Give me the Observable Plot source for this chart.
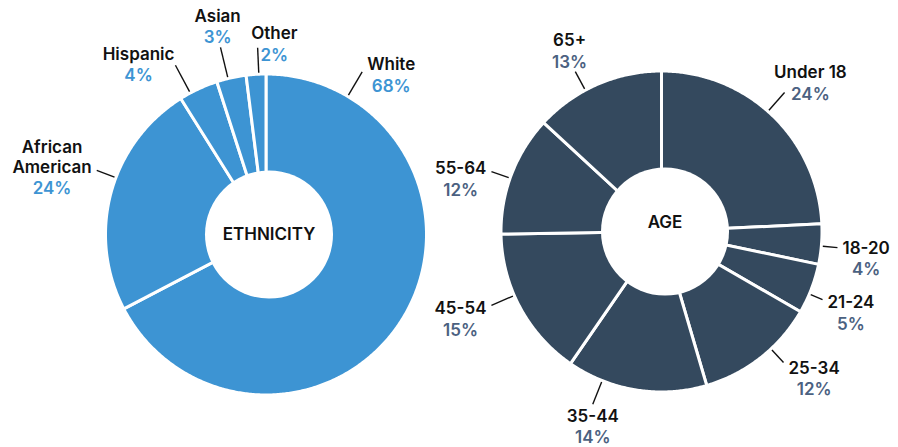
<!DOCTYPE html>
<html>
<head>
<meta charset="utf-8">
<script src="https://cdn.jsdelivr.net/npm/d3@7"></script>
<script src="https://cdn.jsdelivr.net/npm/@observablehq/plot@0.6"></script>
<style>
  html, body { margin: 0; padding: 0; background: #fff; }
  #chart { width: 898px; height: 447px; }
</style>
</head>
<body>
<div id="chart"></div>
<script>
// ---- data ----
const ethnicities = ["White", "African American", "Hispanic", "Asian", "Other"];
const ethnicityPct = [68, 24, 4, 3, 2];
const ageGroups = ["Under 18", "18-20", "21-24", "25-34", "35-44", "45-54", "55-64", "65+"];
const agePct = [24, 4, 5, 12, 14, 15, 12, 13];
const centerTitles = ["ETHNICITY", "AGE"];

// ---- layout / style ----
const W = 898, H = 447;
const FONT = "Inter, 'Open Sans', sans-serif";
const FS = 17;
const WEIGHT = 600;
const donuts = [
  {title: centerTitles[0], names: ethnicities, values: ethnicityPct, cx: 265.5, cy: 234, r: 159, hole: 64, holeDx: 3, titleDy: 0, fill: "#3d94d3", pctColor: "#3d94d3"},
  {title: centerTitles[1], names: ageGroups, values: agePct, cx: 661, cy: 231, r: 159, hole: 64, holeDx: 3.5, titleDy: -8.5, fill: "#34495e", pctColor: "#4b6181"}
];
// label placement (angle shift in degrees from slice middle, leader length beyond radius)
const labelLayout = {
  "White": {shift: -90.6, len: 30, place: "right"},
  "African American": {shift: 5.6, len: 22, place: "left", lines: ["African", "American"]},
  "Hispanic": {shift: -3.2, len: 33, place: "left", nudge: [4, -4]},
  "Asian": {shift: -1.2, len: 33.5, place: "top"},
  "Other": {shift: 1.0, len: 28, place: "right", nudge: [-11.5, -6]},
  "Under 18": {shift: -2.1, len: 26.6, place: "right", nudge: [-15.5, -14]},
  "18-20": {shift: 0.7, len: 17.7, place: "right"},
  "21-24": {shift: 2.0, len: 15.8, place: "right"},
  "25-34": {shift: -4.8, len: 20, place: "right"},
  "35-44": {shift: 12.6, len: 27, place: "bottom"},
  "45-54": {shift: 4.7, len: 26.4, place: "left"},
  "55-64": {shift: -1.5, len: 21.3, place: "left"},
  "65+": {shift: -4.7, len: 22.6, place: "top"}
};

const ctx = document.createElement("canvas").getContext("2d");
ctx.font = `${WEIGHT} ${FS}px ${FONT}`;
const tw = s => ctx.measureText(s).width;

const slicePts = [[], []];
const holes = [], titles = [], leaders = [], nameRows = [], pctRows = [];

donuts.forEach((dn, k) => {
  const items = dn.names.map((n, i) => ({name: n, value: dn.values[i]}));
  const arcs = d3.pie().sort(null).value(d => d.value).startAngle(0).endAngle(2 * Math.PI)(items);
  const pt = (a, rad) => [dn.cx + rad * Math.sin(a), dn.cy - rad * Math.cos(a)];
  arcs.forEach(a => {
    const key = dn.title + ":" + a.data.name;
    const ro = dn.r + 1.5;
    const pts = [[dn.cx, dn.cy]];
    const n = Math.max(2, Math.ceil((a.endAngle - a.startAngle) / (Math.PI / 360)));
    for (let j = 0; j <= n; j++) {
      const ang = a.startAngle + (a.endAngle - a.startAngle) * j / n;
      pts.push(pt(ang, ro));
    }
    pts.forEach(([x, y]) => slicePts[k].push({key, x, y}));

    // labels
    const L = labelLayout[a.data.name] || {shift: 0, len: 24, place: "right"};
    const th = (a.startAngle + a.endAngle) / 2 + L.shift * Math.PI / 180;
    const s = pt(th, dn.r + 3), e = pt(th, dn.r + L.len);
    leaders.push({x1: s[0], y1: s[1], x2: e[0], y2: e[1]});
    const nameLines = L.lines || [a.data.name];
    const pctText = a.data.value + "%";
    const bw = Math.max(...nameLines.map(tw), tw(pctText));
    const sn = Math.sin(th), cs = Math.cos(th);
    let cx, lastY;
    if (L.place === "right") { cx = e[0] + 5 + bw / 2; lastY = e[1] - 8 * cs; }
    else if (L.place === "left") { cx = e[0] - 5 - bw / 2; lastY = e[1] - 8 * cs; }
    else if (L.place === "top") { cx = e[0] + 12 * sn; lastY = e[1] - 9 - 22; }
    else { cx = e[0]; lastY = e[1] + 12 + 20 * (nameLines.length - 1); }
    const nd = L.nudge || [0, 0];
    cx += nd[0]; lastY += nd[1];
    nameLines.forEach((t, i) => nameRows.push({x: cx, y: lastY - 20 * (nameLines.length - 1 - i), text: t}));
    pctRows.push({x: cx, y: lastY + 21.5, text: pctText, fill: dn.pctColor});
  });
  holes.push({x: dn.cx + dn.holeDx, y: dn.cy});
  titles.push({x: dn.cx + dn.holeDx, y: dn.cy + dn.titleDy, text: dn.title});
});

const chart = Plot.plot({
  width: W, height: H,
  marginTop: 0, marginRight: 0, marginBottom: 0, marginLeft: 0,
  x: {domain: [0, W], range: [0, W], axis: null},
  y: {domain: [0, H], range: [0, H], axis: null},
  style: {fontFamily: FONT, background: "white"},
  marks: [
    Plot.line(slicePts[0], {x: "x", y: "y", z: "key", fill: donuts[0].fill, stroke: "white", strokeWidth: 3, curve: "linear-closed", strokeLinejoin: "round"}),
    Plot.line(slicePts[1], {x: "x", y: "y", z: "key", fill: donuts[1].fill, stroke: "white", strokeWidth: 3, curve: "linear-closed", strokeLinejoin: "round"}),
    Plot.dot(holes, {x: "x", y: "y", r: 64, fill: "white", stroke: "none"}),
    Plot.link(leaders, {x1: "x1", y1: "y1", x2: "x2", y2: "y2", stroke: "#111", strokeWidth: 1.4}),
    Plot.text(titles, {x: "x", y: "y", text: "text", fill: "#111", fontSize: FS, fontWeight: WEIGHT, fontFamily: FONT}),
    Plot.text(nameRows, {x: "x", y: "y", text: "text", fill: "#111", fontSize: FS, fontWeight: WEIGHT, fontFamily: FONT}),
    Plot.text(pctRows, {x: "x", y: "y", text: "text", fill: d => d.fill, fontSize: FS, fontWeight: WEIGHT, fontFamily: FONT})
  ]
});
document.getElementById("chart").appendChild(chart);
</script>
</body>
</html>
